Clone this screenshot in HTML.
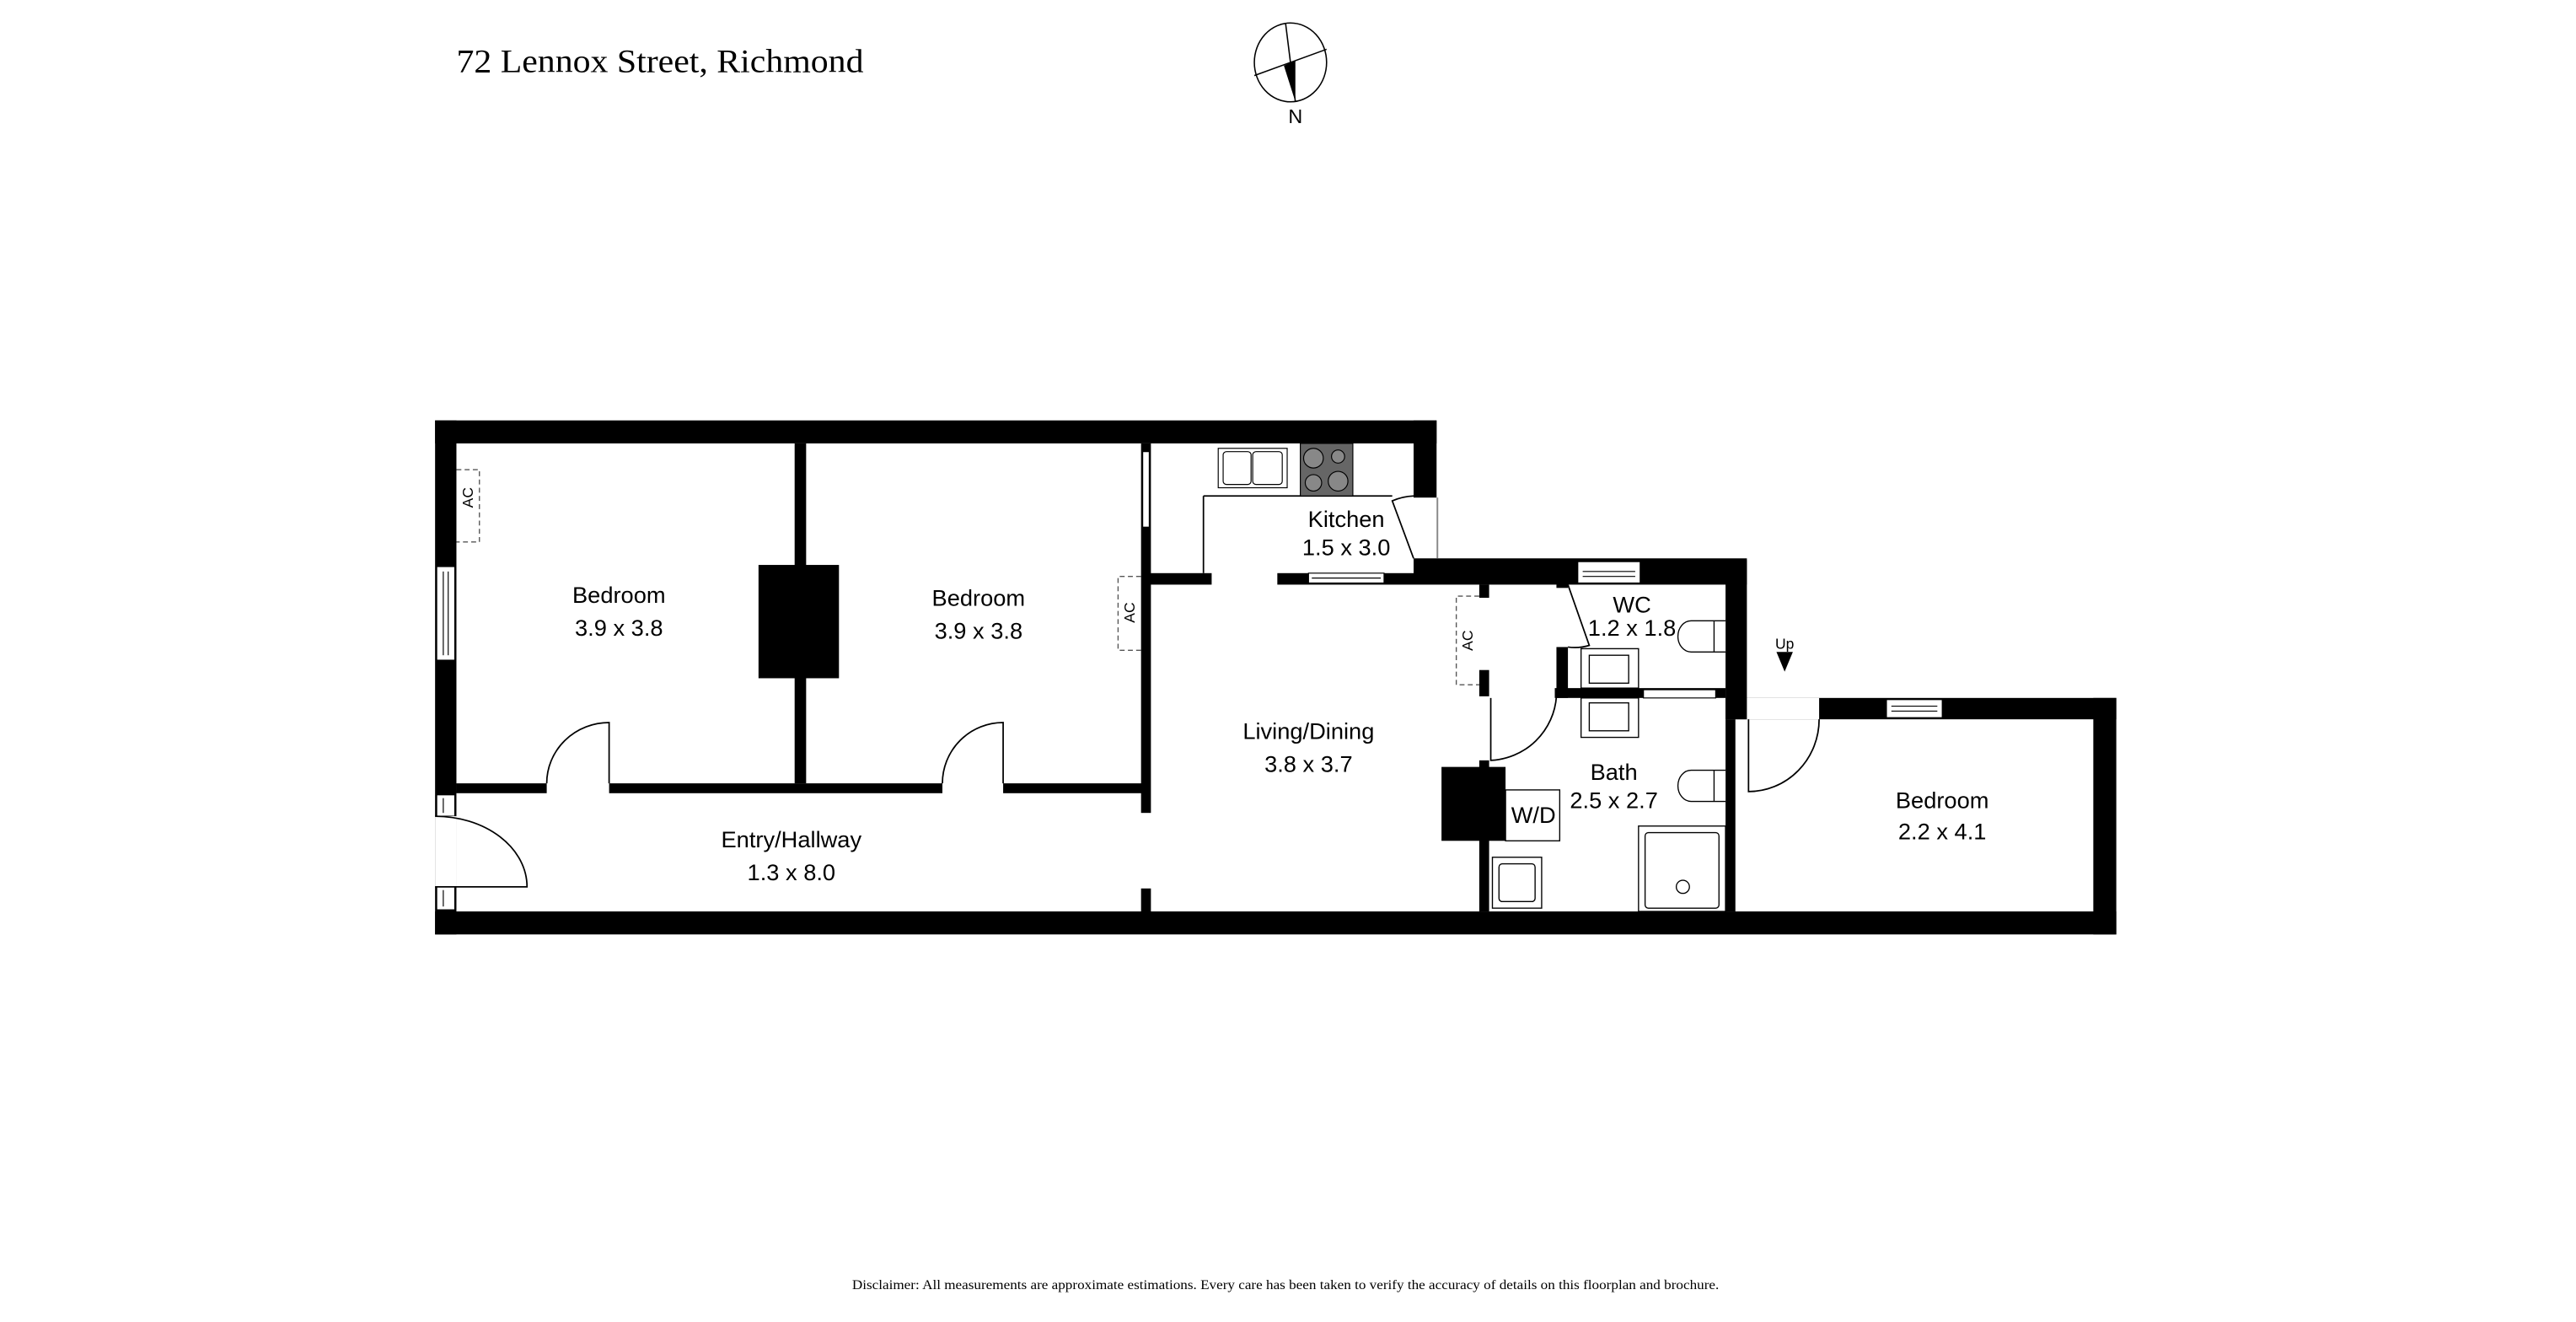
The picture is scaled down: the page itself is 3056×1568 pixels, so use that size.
<!DOCTYPE html>
<html><head><meta charset="utf-8"><style>
html,body{margin:0;padding:0;background:#fff;}
svg{display:block;}
.t{font-family:"Liberation Sans",sans-serif;font-size:14px;fill:#000;text-anchor:middle;}
</style></head><body>
<svg width="3056" height="1568" viewBox="0 0 1569 805" preserveAspectRatio="none" xmlns="http://www.w3.org/2000/svg">
<rect width="1569" height="805" fill="#fff"/>
<text x="278" y="44" font-family="Liberation Serif,serif" font-size="20" textLength="248" lengthAdjust="spacingAndGlyphs">72 Lennox Street, Richmond</text>
<!-- compass -->
<g stroke="#000" stroke-width="0.8" fill="none">
<ellipse cx="786" cy="38" rx="22" ry="24"/>
<line x1="783" y1="14" x2="789" y2="62"/>
<line x1="764" y1="46" x2="808" y2="30"/>
</g>
<polygon points="782,40 789,37 789,62" fill="#000"/>
<text x="789" y="75" font-family="Liberation Sans,sans-serif" font-size="12" text-anchor="middle">N</text>

<g fill="#000">
<rect x="265" y="256" width="610" height="14"/>
<rect x="265" y="256" width="13" height="313"/>
<rect x="265" y="555" width="1024" height="14"/>
<rect x="861" y="256" width="14" height="47"/>
<rect x="861" y="340" width="203" height="16"/>
<rect x="778" y="349" width="83" height="7"/>
<rect x="697" y="349" width="41" height="7"/>
<rect x="1051" y="341" width="13" height="97"/>
<rect x="1051" y="425" width="238" height="13"/>
<rect x="1275" y="425" width="14" height="144"/>
<rect x="1051" y="438" width="6" height="117"/>
<rect x="695" y="270" width="6" height="225"/>
<rect x="695" y="541" width="6" height="15"/>
<rect x="484" y="270" width="7" height="207"/>
<rect x="462" y="344" width="49" height="69"/>
<rect x="278" y="477" width="55" height="6"/>
<rect x="371" y="477" width="203" height="6"/>
<rect x="611" y="477" width="86" height="6"/>
<rect x="901" y="356" width="6" height="8"/>
<rect x="901" y="408" width="6" height="16"/>
<rect x="901" y="463" width="6" height="92"/>
<rect x="878" y="467" width="39" height="45"/>
<rect x="947" y="419" width="104" height="6"/>
<rect x="948" y="394" width="7" height="31"/>
<rect x="948" y="355" width="7" height="3"/>
</g>
<g fill="#fff" stroke="#000" stroke-width="0.6">
<rect x="266" y="345" width="11" height="57"/>
<line x1="270" y1="348" x2="270" y2="399"/><line x1="273" y1="348" x2="273" y2="399"/>
<rect x="266" y="484" width="11" height="13"/>
<line x1="270" y1="486" x2="270" y2="495"/>
<rect x="266" y="540" width="11" height="14"/>
<line x1="270" y1="542" x2="270" y2="552"/>
<rect x="696" y="275" width="4" height="46"/>
<rect x="797" y="349" width="46" height="6"/>
<line x1="799" y1="352" x2="841" y2="352"/>
<rect x="961" y="342" width="38" height="13"/>
<line x1="964" y1="348" x2="996" y2="348"/><line x1="964" y1="351" x2="996" y2="351"/>
<rect x="1001" y="420" width="44" height="5"/>
<rect x="1149" y="426" width="34" height="11"/>
<line x1="1152" y1="430" x2="1180" y2="430"/><line x1="1152" y1="433" x2="1180" y2="433"/>
</g>
<rect x="265" y="497" width="13" height="43" fill="#fff"/>
<rect x="1064" y="425" width="44" height="13" fill="#fff"/>
<rect x="875" y="303" width="1" height="37" fill="#888"/>
<g fill="none" stroke="#000" stroke-width="0.9">
<path d="M265 540 H321 A56 43 0 0 0 265 497"/>
<path d="M371 477 V440 A38 37 0 0 0 333 477"/>
<path d="M611 477 V440 A37 37 0 0 0 574 477"/>
<path d="M1065 438 V482 A43 44 0 0 0 1108 438"/>
<path d="M908 425 V463 A42 42 0 0 0 948 424"/>
<path d="M955 356 L968 393 A30 30 0 0 1 955 394"/>
<path d="M861 340 L848 305 A36 36 0 0 1 861 302"/>
<line x1="733" y1="302" x2="733" y2="349"/>
<line x1="733" y1="302" x2="848" y2="302"/>
</g>
<g fill="none" stroke="#555" stroke-width="0.7" stroke-dasharray="3,2">
<path d="M278 286 H292 V330 H278"/>
<path d="M695 351 H681 V396 H695"/>
<path d="M901 363 H887 V417 H901"/>
</g>
<g font-family="Liberation Sans,sans-serif" font-size="9" text-anchor="middle">
<text transform="translate(288,303) rotate(-90)">AC</text>
<text transform="translate(691,373) rotate(-90)">AC</text>
<text transform="translate(897,390) rotate(-90)">AC</text>
</g>
<g stroke="#000" stroke-width="0.6">
<rect x="742" y="273" width="42" height="24" fill="#fff"/>
<rect x="745" y="275" width="17" height="20" rx="2" fill="#fff"/>
<rect x="763" y="275" width="18" height="20" rx="2" fill="#fff"/>
<rect x="792" y="270" width="32" height="32" fill="#666"/>
<circle cx="800" cy="279" r="6" fill="#888"/><circle cx="815" cy="278" r="4" fill="#888"/>
<circle cx="800" cy="294" r="5" fill="#888"/><circle cx="815" cy="293" r="6" fill="#888"/>
</g>
<g stroke="#000" stroke-width="0.7" fill="#fff">
<rect x="963" y="395" width="35" height="24"/>
<rect x="968" y="399" width="24" height="17"/>
<rect x="963" y="425" width="35" height="24"/>
<rect x="968" y="428" width="24" height="17"/>
<path d="M1051 378 H1030 A8 9.5 0 0 0 1030 397 H1051"/>
<line x1="1044" y1="378" x2="1044" y2="397"/>
<path d="M1051 469 H1030 A8 9.5 0 0 0 1030 488 H1051"/>
<line x1="1044" y1="469" x2="1044" y2="488"/>
<rect x="917" y="481" width="33" height="31"/>
<rect x="909" y="522" width="30" height="31"/>
<rect x="913" y="526" width="22" height="23" rx="2"/>
<rect x="998" y="503" width="53" height="52"/>
<rect x="1002" y="507" width="45" height="46" rx="2"/>
<circle cx="1025" cy="540" r="4"/>
</g>
<polygon points="1082,397 1092,397 1087,409" fill="#000"/>
<text x="1087" y="395" font-family="Liberation Sans,sans-serif" font-size="9" text-anchor="middle">Up</text>
<text class="t" x="377" y="367">Bedroom</text><text class="t" x="377" y="387">3.9 x 3.8</text>
<text class="t" x="596" y="369">Bedroom</text><text class="t" x="596" y="389">3.9 x 3.8</text>
<text class="t" x="820" y="321">Kitchen</text><text class="t" x="820" y="338">1.5 x 3.0</text>
<text class="t" x="797" y="450">Living/Dining</text><text class="t" x="797" y="470">3.8 x 3.7</text>
<text class="t" x="482" y="516">Entry/Hallway</text><text class="t" x="482" y="536">1.3 x 8.0</text>
<text class="t" x="994" y="373" font-size="13">WC</text><text class="t" x="994" y="387" font-size="13">1.2 x 1.8</text>
<text class="t" x="983" y="475">Bath</text><text class="t" x="983" y="492">2.5 x 2.7</text>
<text class="t" x="934" y="501" font-size="13">W/D</text>
<text class="t" x="1183" y="492">Bedroom</text><text class="t" x="1183" y="511">2.2 x 4.1</text>
<text x="519" y="785" font-family="Liberation Serif,serif" font-size="8" textLength="528" lengthAdjust="spacingAndGlyphs">Disclaimer: All measurements are approximate estimations. Every care has been taken to verify the accuracy of details on this floorplan and brochure.</text>
</svg>
</body></html>
